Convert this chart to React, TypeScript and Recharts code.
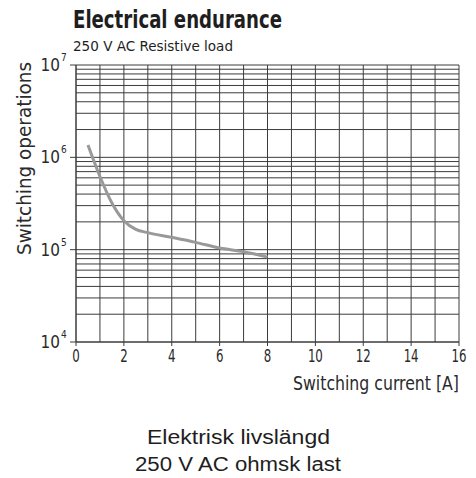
import { Line, LineChart, ReferenceLine, XAxis, YAxis } from "recharts"

const currents = [0.5, 1, 1.5, 2, 2.5, 3, 4, 5, 6, 7, 8]
const operations = [1360000, 620000, 320000, 206000, 166000, 153000, 136000, 120000, 104000, 95000, 83000]

const xTicks = [0, 2, 4, 6, 8, 10, 12, 14, 16]
const yTicks = [10000, 100000, 1000000, 10000000]
const xGrid = [1, 3, 5, 7, 9, 11, 13, 15]
const yGrid = [
	20000, 30000, 40000, 50000, 60000, 70000, 80000, 90000,
	200000, 300000, 400000, 500000, 600000, 700000, 800000, 900000,
	2000000, 3000000, 4000000, 5000000, 6000000, 7000000, 8000000, 9000000,
]

const data = currents.map((c, i) => ({ current: c, ops: operations[i] }))

const narrow = "'DejaVu Sans Condensed', 'DejaVu Sans', sans-serif"
const ink = "#2a2a2a"
const gridColor = "#3c3c3c"

function YTick(props: any) {
	const { x, y, payload } = props
	const exp = Math.round(Math.log10(payload.value))
	return (
		<g>
			<text x={x - 8} y={y + 6} textAnchor="end" fontSize={17} fontFamily={narrow} fill={ink}>
				10
			</text>
			<text x={x - 7} y={y - 4} fontSize={10} fontFamily={narrow} fill={ink}>
				{exp}
			</text>
		</g>
	)
}

function XTick(props: any) {
	const { x, y, payload } = props
	const label = String(payload.value)
	const w = label.length * 7.5
	return (
		<text
			x={x - w / 2}
			y={y + 14}
			fontSize={18}
			fontFamily={narrow}
			fill={ink}
			textLength={w}
			lengthAdjust="spacingAndGlyphs"
		>
			{label}
		</text>
	)
}

export default function App() {
	return (
		<div style={{ position: "absolute", left: 0, top: 0, width: 476, height: 478, background: "#fff" }}>
			<LineChart width={476} height={400} data={data} margin={{ top: 65, right: 17, bottom: 0, left: 0 }}>
				{xGrid.map((v) => (
					<ReferenceLine key={"x" + v} x={v} stroke={gridColor} strokeWidth={1} />
				))}
				{xTicks.map((v) => (
					<ReferenceLine key={"xt" + v} x={v} stroke={gridColor} strokeWidth={1} />
				))}
				{yGrid.map((v) => (
					<ReferenceLine key={"y" + v} y={v} stroke={gridColor} strokeWidth={1} />
				))}
				{yTicks.map((v) => (
					<ReferenceLine key={"yt" + v} y={v} stroke={gridColor} strokeWidth={1} />
				))}
				<XAxis
					dataKey="current"
					type="number"
					domain={[0, 16]}
					ticks={xTicks}
					height={58}
					stroke={gridColor}
					tickSize={4}
					tick={<XTick />}
					label={{
						content: (p: any) => (
							<text
								x={p.viewBox.x + p.viewBox.width - 166}
								y={p.viewBox.y + 48}
								fontSize={19}
								fontFamily={narrow}
								fill={ink}
								textLength={166}
								lengthAdjust="spacingAndGlyphs"
							>
								Switching current [A]
							</text>
						),
					}}
				/>
				<YAxis
					dataKey="ops"
					type="number"
					scale="log"
					domain={[10000, 10000000]}
					ticks={yTicks}
					width={76}
					stroke={gridColor}
					tickSize={6}
					tick={<YTick />}
					allowDataOverflow
					label={{
						content: () => (
							<text
								x={0}
								y={0}
								transform="translate(31,255) rotate(-90)"
								fontSize={19}
								fontFamily={narrow}
								fill={ink}
								textLength={193}
								lengthAdjust="spacingAndGlyphs"
							>
								Switching operations
							</text>
						),
					}}
				/>
				<Line
					dataKey="ops"
					type="monotone"
					stroke="#999"
					strokeWidth={3}
					dot={false}
					isAnimationActive={false}
				/>
			</LineChart>
			<svg width={476} height={478} style={{ position: "absolute", left: 0, top: 0, pointerEvents: "none" }}>
				<text
					x={73}
					y={28}
					fontSize={24}
					fontWeight="bold"
					fontFamily={narrow}
					fill="#1e1e1e"
					textLength={209}
					lengthAdjust="spacingAndGlyphs"
				>
					Electrical endurance
				</text>
				<text
					x={73}
					y={51}
					fontSize={14.5}
					fontFamily={narrow}
					fill="#1e1e1e"
					textLength={160}
					lengthAdjust="spacingAndGlyphs"
				>
					250 V AC Resistive load
				</text>
				<text
					x={147}
					y={444}
					fontSize={20}
					fontFamily="'Liberation Sans', Arial, sans-serif"
					fill="#1e1e1e"
					textLength={183}
					lengthAdjust="spacingAndGlyphs"
				>
					Elektrisk livslängd
				</text>
				<text
					x={135}
					y={471}
					fontSize={20}
					fontFamily="'Liberation Sans', Arial, sans-serif"
					fill="#1e1e1e"
					textLength={206}
					lengthAdjust="spacingAndGlyphs"
				>
					250 V AC ohmsk last
				</text>
			</svg>
		</div>
	)
}
